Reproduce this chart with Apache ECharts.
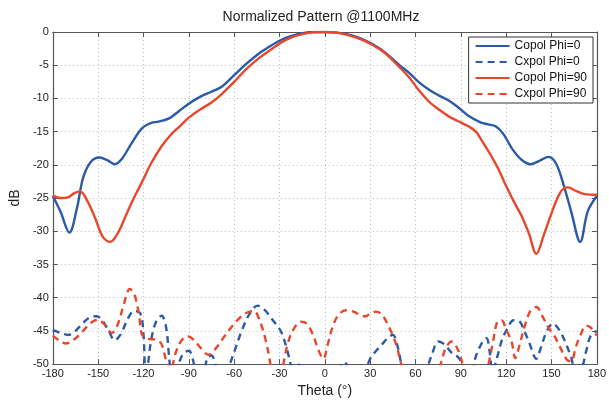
<!DOCTYPE html>
<html><head><meta charset="utf-8">
<script src="https://cdn.jsdelivr.net/npm/echarts@6/dist/echarts.min.js"></script>
<style>html,body{margin:0;padding:0;background:#fff}#c{width:609px;height:403px}</style>
</head><body><div id="c"></div>
<script>
var xTicks = [-180,-150,-120,-90,-60,-30,0,30,60,90,120,150,180];
var yTicks = [0,-5,-10,-15,-20,-25,-30,-35,-40,-45,-50];
var seriesNames = ['Copol Phi=0','Cxpol Phi=0','Copol Phi=90','Cxpol Phi=90'];

var copol0Theta = [-180,-175,-169,-164,-160,-155,-149,-144,-139,-134,-128,-121,-115,-110,-103,-97,-90,-82,-75,-68,-60,-52,-44,-36,-29,-22,-16,-8,0,8,16,24,32,40,49,56,62,69,75,82,88,95,103,108,113,118,124,130,136,142,148,153,158,163,169,174,180];
var copol0dB = [-24.7,-27.0,-30.2,-26.5,-22.0,-19.6,-18.9,-19.3,-19.9,-19.0,-16.8,-14.5,-13.7,-13.5,-13.0,-12.0,-10.8,-9.7,-9.0,-8.2,-6.5,-4.8,-3.3,-2.1,-1.2,-0.6,-0.25,0,0,-0.1,-0.4,-1.0,-1.9,-3.1,-4.9,-6.2,-7.5,-8.7,-9.5,-10.3,-11.3,-12.6,-13.6,-13.9,-14.2,-15.3,-17.6,-19.2,-19.9,-19.4,-18.8,-19.8,-23.0,-27.0,-31.6,-27.0,-24.7];

var copol90Theta = [-180,-175,-170,-166,-162,-157,-152,-147,-142,-137,-132,-127,-121,-115,-108,-102,-96,-90,-82,-75,-68,-60,-52,-44,-36,-29,-22,-16,-8,0,8,16,24,32,40,49,56,62,69,75,82,88,95,100,104,110,115,120,125,130,135,140,145,150,156,161,166,172,180];
var copol90dB = [-24.6,-25.0,-24.9,-24.3,-24.0,-25.5,-28.0,-30.8,-31.6,-30.3,-27.8,-25.3,-22.6,-19.8,-17.2,-15.5,-14.2,-12.9,-11.6,-10.6,-9.3,-7.5,-5.6,-4.0,-2.7,-1.6,-0.8,-0.4,-0.05,0,-0.1,-0.5,-1.1,-2.0,-3.2,-5.2,-6.9,-8.7,-10.5,-11.6,-12.7,-13.4,-14.2,-15.0,-16.4,-18.6,-20.7,-23.2,-25.5,-27.6,-30.3,-33.4,-30.5,-27.3,-24.1,-23.4,-23.9,-24.4,-24.5];

var cxpol0Theta = [-180,-175,-170,-165,-160,-155,-151,-147,-143,-139,-135,-130,-126,-122,-120,-118.5,-117,-115,-112,-108,-105,-103,-101,-98,-94,-90,-87,-84,-81,-78,-75,-72,-69,-66,-63,-60,-55,-50,-44.5,-40,-35,-29,-25,-22,-19,-16,-13,-8,0,6,10,13,16,22,27,30,34,38,42,45,48,51,54,60,65,68,71,75,79,84,87,90,93,97,100,104,107,109,111,114,117,120,125,129,132,135,140,143,147,151,155,159,163,166,170,173,176,180];
var cxpol0dB = [-44.9,-45.3,-45.6,-45.0,-43.8,-42.9,-42.8,-43.5,-45.0,-46.4,-45.5,-43.0,-42.0,-42.4,-45.5,-52,-50,-46.5,-43.8,-42.7,-44.5,-49,-53,-51,-48.5,-48.0,-49.6,-53,-53,-49.2,-48.7,-50.5,-53,-53,-50.2,-48.2,-45.0,-42.5,-41.2,-41.8,-43.2,-45.1,-47.8,-50.5,-52,-49.8,-51,-55,-56,-53,-50.5,-49.7,-51,-54,-51,-49.2,-48,-47,-46.0,-45.6,-47.2,-50.5,-54,-56,-53,-50.5,-48.5,-46.6,-47,-48.3,-48.7,-49.5,-51,-51,-48.8,-46.8,-46.1,-48,-51,-49,-46.5,-45.0,-43.4,-43.6,-45,-46.6,-49.2,-47.5,-45.0,-43.9,-44.8,-46.6,-49,-51,-50.5,-48,-45.7,-45.0];

var cxpol90Theta = [-180,-176,-171.5,-166,-160,-155,-150,-146,-141,-137,-133,-129,-126,-123,-121,-117,-112,-108,-105,-102,-99,-95,-91,-87,-82,-77,-72,-67,-62,-57,-52,-47,-43,-39,-36,-33,-30,-27,-24,-20,-16,-12,-8,-4,-1,2,5,9,14,19,24,27,30,34,38,42,45,48,50,55,60,66,72,76,80,84,88,92,97,102,107,111,114,117,120,123.6,126,129,132,136,140,144,148,152,156,160,163,166,169,173,176,180];
var cxpol90dB = [-45.7,-46.4,-46.9,-46.3,-45.0,-43.8,-43.3,-44.0,-45.3,-44.0,-41.0,-38.7,-39.5,-42.5,-45.5,-46.2,-46.3,-47.0,-49.5,-51,-48.5,-46.5,-45.8,-46.3,-47.6,-48.6,-47.6,-46.0,-44.5,-43.2,-42.3,-42.0,-43.5,-46.5,-50,-54,-53,-49.5,-46.5,-44.5,-43.6,-43.9,-45.5,-48,-49.2,-47,-44.5,-42.6,-41.9,-42.1,-42.7,-42.8,-42.4,-42.1,-42.6,-44.2,-45.7,-47.6,-49.5,-53,-54,-54,-53,-50.5,-47.6,-46.6,-47.8,-50.5,-53,-53,-51,-47,-43.7,-43.4,-44.8,-46.6,-49.1,-47,-44.5,-42,-41.4,-42.8,-44.5,-45.8,-47.6,-49.3,-49.6,-47.5,-45.7,-44.2,-44.5,-45.7];

function pairs(t, v){ return t.map(function(x,i){ return [x, v[i]]; }); }

var BLUE = '#2a5aa8', RED = '#e8472b';
var FONT = 'Liberation Sans';
var chart = echarts.init(document.getElementById('c'));

var axisLineStyle = {color:'#555', width:1.2};
function xAx(pos, show){
  return {type:'value', position:pos, min:-180, max:180, interval:30,
    axisLine:{show:true, onZero:false, lineStyle:axisLineStyle},
    axisTick:{show:true, inside:true, length:5, lineStyle:{color:'#555'}},
    axisLabel:{show:show, fontFamily:FONT, fontSize:11, color:'#222', margin:4},
    splitLine:{show:pos==='bottom', lineStyle:{color:'#bdbdbd', type:[1,3], width:1}},
    name: show ? 'Theta (°)' : '', nameLocation:'middle', nameGap:19,
    nameTextStyle:{fontFamily:FONT, fontSize:14, color:'#222'}};
}
function yAx(pos, show){
  return {type:'value', position:pos, min:-50, max:0, interval:5,
    axisLine:{show:true, onZero:false, lineStyle:axisLineStyle},
    axisTick:{show:true, inside:true, length:5, lineStyle:{color:'#555'}},
    axisLabel:{show:show, fontFamily:FONT, fontSize:11, color:'#222', margin:4},
    splitLine:{show:pos==='left', lineStyle:{color:'#bdbdbd', type:[1,3], width:1}},
    name: show ? 'dB' : '', nameLocation:'middle', nameGap:30, nameRotate:90,
    nameTextStyle:{fontFamily:FONT, fontSize:14, color:'#222'}};
}
function ser(name, t, v, color, dashed){
  return {name:name, type:'line', data:pairs(t,v), symbol:'none', smooth:0.35, clip:true,
    xAxisIndex:0, yAxisIndex:0,
    lineStyle:{color:color, width:2.4, type: dashed ? [7,5] : 'solid'},
    itemStyle:{color:color}, z: dashed ? 2 : 3};
}

chart.setOption({
  animation:false,
  backgroundColor:'#fff',
  graphic:[{type:'text', x:321, y:17, style:{text:'Normalized Pattern @1100MHz', fontFamily:FONT, fontSize:14, fill:'#222', align:'center', verticalAlign:'middle'}}],
  grid:{left:50, top:32, right:10, bottom:37},
  legend:{data:seriesNames, orient:'vertical', right:16, top:37, itemWidth:34, itemHeight:12, itemGap:4,
    padding:[3,6,3,6], borderColor:'#333', borderWidth:1, backgroundColor:'#fff',
    itemStyle:{opacity:0},
    textStyle:{fontFamily:FONT, fontSize:12, color:'#111'}},
  xAxis:[xAx('bottom', true), xAx('top', false)],
  yAxis:[yAx('left', true), yAx('right', false)],
  series:[
    ser(seriesNames[0], copol0Theta, copol0dB, BLUE, false),
    ser(seriesNames[1], cxpol0Theta, cxpol0dB, BLUE, true),
    ser(seriesNames[2], copol90Theta, copol90dB, RED, false),
    ser(seriesNames[3], cxpol90Theta, cxpol90dB, RED, true)
  ]
});
</script></body></html>
